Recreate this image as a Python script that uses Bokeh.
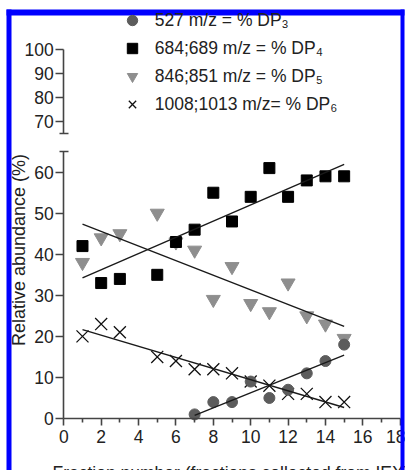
import numpy as np
from bokeh.plotting import figure
from bokeh.models import (Range1d, LinearAxis, FixedTicker, Label, BoxAnnotation,
                          Legend, LegendItem)
from bokeh.embed import file_html
from bokeh.resources import INLINE

# ---------------- data ----------------
fraction_dp3 = [7, 8, 9, 10, 11, 12, 13, 14, 15]
abundance_dp3 = [1, 4, 4, 9, 5, 7, 11, 14, 18]

fraction_dp4 = [1, 2, 3, 5, 6, 7, 8, 9, 10, 11, 12, 13, 14, 15]
abundance_dp4 = [42, 33, 34, 35, 43, 46, 55, 48, 54, 61, 54, 58, 59, 59]

fraction_dp5 = [1, 2, 3, 5, 6, 7, 8, 9, 10, 11, 12, 13, 14, 15]
abundance_dp5 = [38, 44, 45, 50, 43, 41, 29, 37, 28, 26, 33, 25, 23, 19.5]

fraction_dp6 = [1, 2, 3, 5, 6, 7, 8, 9, 10, 11, 12, 13, 14, 15]
abundance_dp6 = [20, 23, 21, 15, 14, 12, 12, 11, 9, 8, 6, 6, 4, 4]

x_ticks = [0, 2, 4, 6, 8, 10, 12, 14, 16, 18]
x_minor_ticks = [1, 3, 5, 7, 9, 11, 13, 15, 17]
lower_ticks = [0, 10, 20, 30, 40, 50, 60]
upper_ticks = [70, 80, 90, 100]
axis_break = 65

legend_labels = ["527 m/z = % DP\u2083", "684;689 m/z = % DP\u2084",
                 "846;851 m/z = % DP\u2085", "1008;1013 m/z= % DP\u2086"]

x_title = "Fraction number (fractions collected from IEX)"
y_title = "Relative abundance (%)"

# ---------------- layout (canvas == page, page has no margin) ----------------
W, H = 405, 470
X0_PX, XS = 63.3, 18.69      # canvas x of fraction 0, px per fraction
Y0_PX, YS = 418.0, 4.105     # canvas y of 0 %, px per % (lower segment)
U100_PX, US = 48.7, 2.40     # canvas y of 100 %, px per % (upper segment)

def dx(px):
    return (px - X0_PX) / XS

def dy(py):
    return (Y0_PX - py) / YS

FONT = "Liberation Sans"
FS = "17.5px"
AX_COLOR = "#444444"
TXT = "#222222"

p = figure(width=W, height=H,
           x_range=Range1d(dx(0), dx(W)), y_range=Range1d(dy(H), dy(0)),
           x_axis_type=None, y_axis_type=None,
           toolbar_location=None, output_backend="svg",
           min_border=0, outline_line_color=None,
           background_fill_color="white", border_fill_color="white")
p.extra_y_ranges = {"upper": Range1d(100 - (H - U100_PX) / US, 100 + U100_PX / US)}

def style_axis(ax):
    ax.axis_line_color = AX_COLOR
    ax.axis_line_width = 1.6
    ax.major_tick_line_color = AX_COLOR
    ax.major_tick_line_width = 1.6
    ax.minor_tick_line_color = AX_COLOR
    ax.minor_tick_line_width = 1.6
    ax.major_label_text_font = FONT
    ax.major_label_text_font_size = FS
    ax.major_label_text_color = TXT

ax_lo = LinearAxis(fixed_location=0, bounds=(0, axis_break),
                   ticker=FixedTicker(ticks=lower_ticks, minor_ticks=[axis_break]))
ax_up = LinearAxis(fixed_location=0, bounds=(axis_break, 100), y_range_name="upper",
                   ticker=FixedTicker(ticks=upper_ticks, minor_ticks=[axis_break]))
for ax in (ax_lo, ax_up):
    style_axis(ax)
    ax.major_tick_out = 8
    ax.major_tick_in = 0
    ax.minor_tick_out = 4
    ax.minor_tick_in = 5
    ax.major_label_standoff = 2
    p.add_layout(ax, "left")

ax_x = LinearAxis(fixed_location=0, bounds=(0, 18),
                  ticker=FixedTicker(ticks=x_ticks, minor_ticks=x_minor_ticks))
style_axis(ax_x)
ax_x.major_tick_out = 7
ax_x.major_tick_in = 0
ax_x.minor_tick_out = 4
ax_x.minor_tick_in = 0
ax_x.major_label_standoff = 4
p.add_layout(ax_x, "below")

# ---------------- marks ----------------
r5 = p.scatter(fraction_dp5, abundance_dp5, marker="inverted_triangle", size=14,
               fill_color="#8e8e8e", line_color="#8e8e8e")
r4 = p.scatter(fraction_dp4, abundance_dp4, marker="square", size=11,
               fill_color="black", line_color="black")
r6 = p.scatter(fraction_dp6, abundance_dp6, marker="x", size=17,
               line_color="#111111", line_width=1.3)
r3 = p.scatter(fraction_dp3, abundance_dp3, marker="circle", size=11,
               fill_color="#5c5c5c", line_color="#5c5c5c")

for xs, ys in ((fraction_dp3, abundance_dp3), (fraction_dp4, abundance_dp4),
               (fraction_dp5, abundance_dp5), (fraction_dp6, abundance_dp6)):
    coef = np.polyfit(xs, ys, 1)
    ends = np.array([min(xs), max(xs)], dtype=float)
    p.line(ends, np.polyval(coef, ends), line_color="#1a1a1a", line_width=1.4)

# ---------------- legend ----------------
legend = Legend(items=[LegendItem(label=lab, renderers=[r])
                       for lab, r in zip(legend_labels, (r3, r4, r5, r6))],
                location=(118.7, 353), orientation="vertical",
                label_text_font=FONT, label_text_font_size=FS, label_text_color=TXT,
                glyph_width=26, glyph_height=26, label_height=26, spacing=2,
                padding=0, margin=0, label_standoff=10,
                background_fill_alpha=0, border_line_alpha=0)
p.add_layout(legend)

# ---------------- axis titles ----------------
p.add_layout(Label(x=dx(18.5), y=dy(249.5), text=y_title, angle=np.pi / 2,
                   text_align="center", text_baseline="alphabetic",
                   text_font=FONT, text_font_size="18px", text_color=TXT))
p.add_layout(Label(x=dx(52), y=dy(472.5), text=x_title,
                   text_align="left", text_baseline="alphabetic",
                   text_font=FONT, text_font_size=FS, text_color=TXT))

# ---------------- blue frame ----------------
for l, r, t, b in ((6, 11, 9, H), (6, 404, 9, 15), (400, 404, 9, H)):
    p.add_layout(BoxAnnotation(left=dx(l), right=dx(r), top=dy(t), bottom=dy(b),
                               fill_color="#0000ff", fill_alpha=1.0, line_alpha=0,
                               level="overlay"))

open("out.html", "w").write(file_html(p, INLINE))
